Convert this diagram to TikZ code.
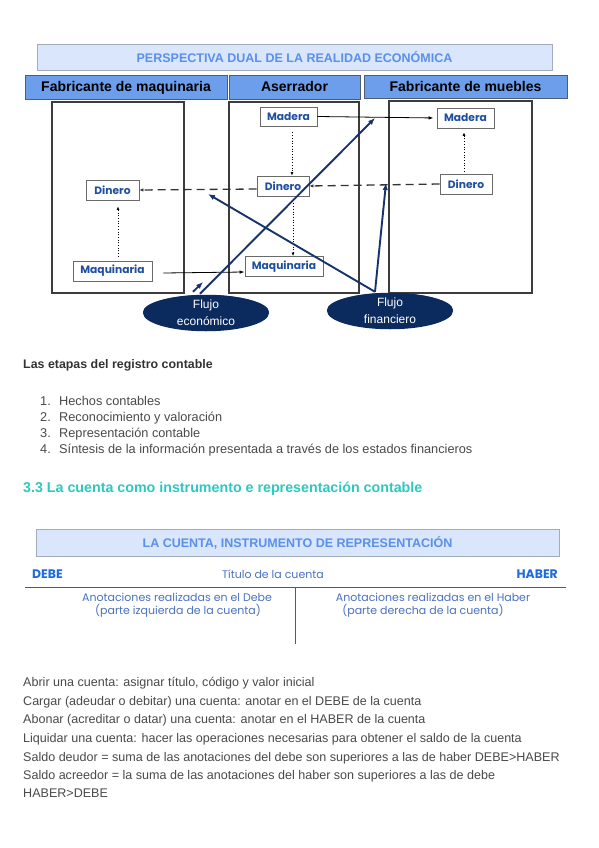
\documentclass[tikz,border=0pt]{standalone}
\usepackage{fontspec}
\setmainfont{Liberation Sans}
\newfontfamily\pop{Poppins}
\usetikzlibrary{arrows.meta,shapes.geometric}
\definecolor{titlefill}{HTML}{D9E6FC}
\definecolor{titledraw}{HTML}{A3ACB9}
\definecolor{titletext}{HTML}{5A8FEC}
\definecolor{hdrfill}{HTML}{6D9EEB}
\definecolor{hdrdraw}{HTML}{4F5D73}
\definecolor{nodeblue}{HTML}{1E4FA0}
\definecolor{boxgray}{HTML}{6A6A6A}
\definecolor{bigdraw}{HTML}{3C3C3C}
\definecolor{navy}{HTML}{17336B}
\definecolor{ellfill}{HTML}{0B2B5E}
\definecolor{teal}{HTML}{2DC8C0}
\definecolor{bodytext}{HTML}{4A4A4A}
\definecolor{headtext}{HTML}{333333}
\definecolor{acctext}{HTML}{4A72BF}
\definecolor{debeblue}{HTML}{1C6BE0}
\definecolor{tline}{HTML}{5A5A5A}
\tikzset{
  titlebox/.style={draw=titledraw, fill=titlefill, line width=1pt, inner sep=0pt,
    text=titletext, text height=9.5pt, text depth=0.5pt,
    font=\bfseries\fontsize{12.5}{14}\selectfont},
  hdr/.style={draw=hdrdraw, fill=hdrfill, line width=0.8pt, inner sep=0pt,
    text height=10.5pt, text depth=0.5pt,
    font=\bfseries\fontsize{14}{16}\selectfont},
  bigbox/.style={draw=bigdraw, line width=1.2pt, inner sep=0pt},
  tbox/.style={draw=boxgray, line width=0.9pt, fill=white, inner sep=0pt,
    text=nodeblue, font=\pop\bfseries\fontsize{10.7}{12}\selectfont},
  flujo/.style={ellipse, fill=ellfill, inner sep=0pt, minimum width=126pt,
    minimum height=34pt, text=white, align=center,
    font=\fontsize{12}{17}\selectfont},
  solidarrow/.style={draw=black, line width=0.8pt, -{Latex[length=5pt,width=3.5pt]}},
  dotarrow/.style={draw=black, line width=0.7pt, dotted, -{Latex[length=3.5pt,width=3pt]}},
  dasharrow/.style={draw=headtext, line width=1.3pt, dash pattern=on 8pt off 5pt,
    -{Latex[length=4pt,width=3.5pt]}},
  navyarrow/.style={draw=navy, line width=1.9pt, -{Latex[length=7pt,width=5.5pt]}},
  body/.style={anchor=base west, inner sep=0pt, text=bodytext,
    font=\fontsize{12.55}{15}\selectfont},
  listtext/.style={anchor=base west, inner sep=0pt, text=bodytext,
    font=\fontsize{12.75}{15}\selectfont},
  acc/.style={anchor=base, inner sep=0pt, text=acctext,
    font=\pop\fontsize{11}{13}\selectfont},
  debe/.style={inner sep=0pt, text=debeblue, font=\pop\bfseries\fontsize{12.4}{14}\selectfont}
}
\begin{document}
\begin{tikzpicture}[x=1pt,y=-1pt]
\useasboundingbox[fill=white] (0,0) rectangle (599,848);

% ---------- first diagram ----------
\node[titlebox, minimum width=515pt, minimum height=26pt] (t1) at (294.5,58) {PERSPECTIVA DUAL DE LA REALIDAD ECONÓMICA};
\node[hdr, minimum width=202pt, minimum height=24pt] (h1) at (126,87) {Fabricante de maquinaria};
\node[hdr, minimum width=131pt, minimum height=24pt] (h2) at (294.5,87) {Aserrador};
\node[hdr, minimum width=203pt, minimum height=23pt] (h3) at (465.5,86.5) {Fabricante de muebles};

\node[bigbox, minimum width=132pt, minimum height=191pt] (bL) at (118,197.5) {};
\node[bigbox, minimum width=130pt, minimum height=191pt] (bM) at (294,197.5) {};
\node[bigbox, minimum width=143pt, minimum height=192pt] (bR) at (460.5,197) {};

\node[tbox, minimum width=57pt, minimum height=19pt] (mM) at (288.5,116.5) {Madera};
\node[tbox, minimum width=52pt, minimum height=20pt] (dM) at (283,186) {Dinero};
\node[tbox, minimum width=78pt, minimum height=20pt] (qM) at (284,266.5) {Maquinaria};
\node[tbox, minimum width=57pt, minimum height=20pt] (mR) at (465.5,118) {Madera};
\node[tbox, minimum width=52pt, minimum height=20pt] (dR) at (466,184) {Dinero};
\node[tbox, minimum width=53pt, minimum height=20pt] (dL) at (112.5,190) {Dinero};
\node[tbox, minimum width=79pt, minimum height=20pt] (qL) at (112.5,271) {Maquinaria};

% black connectors
\draw[solidarrow, shorten >=3pt] (mM.east) -- (mR.west);
\draw[solidarrow] ([xshift=11pt,yshift=-2pt]qL.east) -- ([yshift=-5.5pt]qM.west);
\draw[dotarrow] ([xshift=3.5pt,yshift=-6pt]mM.south) -- ([xshift=9pt]dM.north);
\draw[dotarrow] ([xshift=10pt,yshift=-7pt]dM.south) -- ([xshift=9pt]qM.north);
\draw[dotarrow] ([xshift=-2pt,yshift=2pt]dR.north) -- ([xshift=-1.5pt,yshift=-4pt]mR.south);
\draw[dotarrow] ([xshift=5.5pt,yshift=4pt]qL.north) -- ([xshift=5.5pt,yshift=-6pt]dL.south);
\draw[dasharrow] (dR.west) -- (dM.east);
\draw[dasharrow] ([yshift=-3pt]dM.west) -- (dL.east);

% flows
\node[flujo] (eco) at (206,312) {};
\node[flujo] (fin) at (390,310) {};
\coordinate (ecoT) at (375,118);
\coordinate (ecoS) at (203,282);
\coordinate (finV) at (386,183);
\coordinate (finL) at (208,194);
\draw[navyarrow] ([xshift=-6pt,yshift=1pt]eco.north) -- (ecoT);
\draw[navyarrow] ([xshift=-13pt,yshift=3pt]eco.north) -- (ecoS);
\draw[navyarrow] ([xshift=-15pt,yshift=1pt]fin.north) -- (finV);
\draw[navyarrow] ([xshift=-15pt,yshift=1pt]fin.north) -- (finL);
\node[flujo] (ecoL) at ([yshift=-1pt]eco.center) {Flujo\\económico};
\node[flujo] (finLb) at ([yshift=-1pt]fin.center) {Flujo\\financiero};

% ---------- text block ----------
\node[anchor=base west, inner sep=0pt, text=headtext, font=\bfseries\fontsize{12.4}{15}\selectfont] (etapas) at (23,368) {Las etapas del registro contable};
\node[listtext] (n1) at (40,405) {1.};
\node[listtext] (l1) at (59,405) {Hechos contables};
\node[listtext] (n2) at (40,421) {2.};
\node[listtext] (l2) at (59,421) {Reconocimiento y valoración};
\node[listtext] (n3) at (40,437) {3.};
\node[listtext] (l3) at (59,437) {Representación contable};
\node[listtext] (n4) at (40,453) {4.};
\node[listtext] (l4) at (59,453) {Síntesis de la información presentada a través de los estados financieros};
\node[anchor=base west, inner sep=0pt, text=teal, font=\bfseries\fontsize{14.25}{18}\selectfont] (sec) at (23,492) {3.3 La cuenta como instrumento e representación contable};

% ---------- second diagram ----------
\node[titlebox, minimum width=523pt, minimum height=27pt] (t2) at (297.5,542.5) {LA CUENTA, INSTRUMENTO DE REPRESENTACIÓN};
\node[debe, anchor=base west] (debe) at (32,578) {DEBE};
\node[debe, anchor=base east] (haber) at (558,578) {HABER};
\node[acc] (titulo) at (273,578) {Título de la cuenta};
\draw[tline, line width=1pt] (25,587) -- (566,587);
\draw[tline, line width=1pt] (295,587) -- (295,644);
\node[acc] (a1) at (177,601) {Anotaciones realizadas en el Debe};
\node[acc] (a2) at (178,614) {(parte izquierda de la cuenta)};
\node[acc] (b1) at (433,601) {Anotaciones realizadas en el Haber};
\node[acc] (b2) at (423,614) {(parte derecha de la cuenta)};

% ---------- body lines ----------
\node[body] (r1) at (23,686) {Abrir una cuenta: asignar título, código y valor inicial};
\node[body] (r2) at (23,705) {Cargar (adeudar o debitar) una cuenta: anotar en el DEBE de la cuenta};
\node[body] (r3) at (23,723) {Abonar (acreditar o datar) una cuenta: anotar en el HABER de la cuenta};
\node[body] (r4) at (23,742) {Liquidar una cuenta: hacer las operaciones necesarias para obtener el saldo de la cuenta};
\node[body] (r5) at (23,761) {Saldo deudor = suma de las anotaciones del debe son superiores a las de haber DEBE>HABER};
\node[body] (r6) at (23,779) {Saldo acreedor = la suma de las anotaciones del haber son superiores a las de debe};
\node[body] (r7) at (23,797) {HABER>DEBE};
\end{tikzpicture}
\end{document}
